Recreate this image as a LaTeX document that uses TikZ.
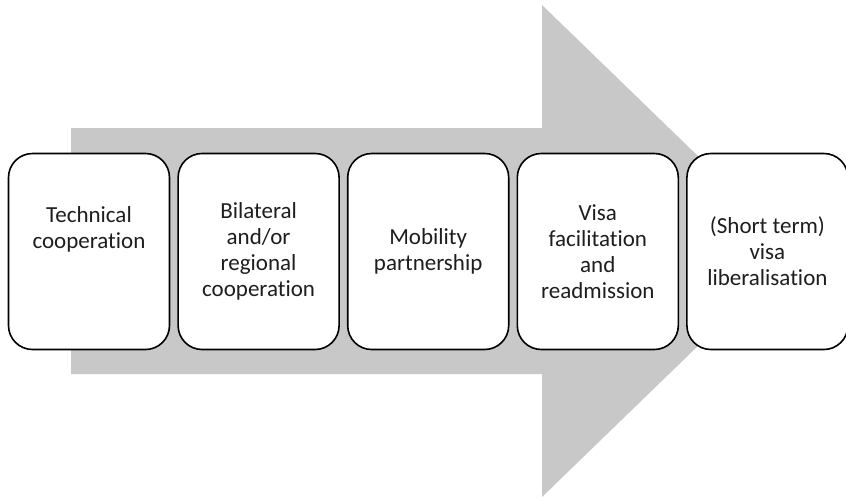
\documentclass[tikz,border=0pt]{standalone}
\usepackage{fontspec}
\setmainfont{Carlito}[Ligatures=NoCommon]
\usetikzlibrary{positioning}

\definecolor{arrowgray}{RGB}{200,200,200}
\definecolor{textdark}{RGB}{30,30,30}

\tikzset{
  stage/.style={draw, line width=1.6pt, rounded corners=24pt, fill=white,
    minimum width=161pt, minimum height=196pt, inner sep=2pt,
    align=center, text=textdark, font=\fontsize{23}{26}\selectfont}
}

\begin{document}
\begin{tikzpicture}[x=1pt,y=-1pt]
    \useasboundingbox (0,0) rectangle (846,499);

    % Big arrow behind the stages
    \fill[arrowgray] (71,128) -- (542,128) -- (542,5) -- (796,251)
        -- (542,497) -- (542,374) -- (71,374) -- cycle;

    % Stages, left to right
    \node[stage] (tech) at (89,251.5) {Technical\\cooperation\\[22pt]\mbox{}};
    \node[stage, right=7pt of tech] (bilat) {Bilateral\\and/or\\regional\\cooperation};
    \node[stage, right=7pt of bilat] (mobil) {Mobility\\partnership};
    \node[stage, right=7pt of mobil] (visa) {Visa\\facilitation\\and\\readmission};
    \node[stage, right=7pt of visa] (liber) {(Short term)\\visa\\liberalisation};
\end{tikzpicture}
\end{document}
